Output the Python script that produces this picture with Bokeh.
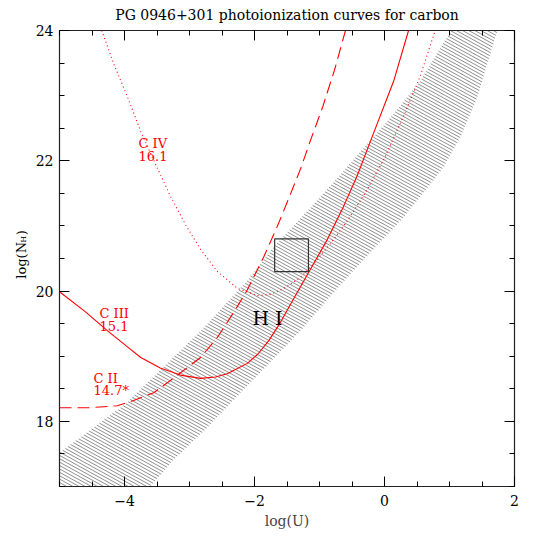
import numpy as np
from bokeh.plotting import figure
from bokeh.models import Range1d, FixedTicker, LinearAxis, ColumnDataSource
from bokeh.layouts import row
from bokeh.core.properties import value
from bokeh.embed import file_html
from bokeh.resources import INLINE

# ---------------- data ----------------
title_text = "PG 0946+301 photoionization curves for carbon"
x_label = "log(U)"
y_label_parts = ["log(N", "H", ")"]

x_major = [-4, -2, 0, 2]
x_major_labels = ["\u22124", "\u22122", "0", "2"]
x_minor = [-5.0, -4.5, -3.5, -3.0, -2.5, -1.5, -1.0, -0.5, 0.5, 1.0, 1.5]
y_major = [18, 20, 22, 24]
y_major_labels = ["18", "20", "22", "24"]
y_minor = [17.0, 17.5, 18.5, 19.0, 19.5, 20.5, 21.0, 21.5, 22.5, 23.0, 23.5]

# H I allowed band (upper-left edge and lower-right edge)
band_up_x = [-5.0, -3.985, -2.83, -2.14, -1.68, -1.14, -0.68, -0.25, 0.09, 0.55, 1.02]
band_up_y = [17.52, 18.27, 19.39, 20.13, 20.71, 21.28, 21.79, 22.28, 22.66, 23.23, 24.0]
band_lo_x = [-3.60, -3.25, -2.72, -2.22, -1.83, -1.29, -0.75, -0.22, 0.25, 0.55, 0.91, 1.17, 1.43, 1.585, 1.74]
band_lo_y = [17.0, 17.40, 17.91, 18.43, 18.83, 19.39, 20.01, 20.59, 21.08, 21.44, 21.90, 22.36, 22.97, 23.49, 24.0]

# C IV (16.1) dotted curve
civ_x = [-4.35, -4.17, -3.95, -3.75, -3.5, -3.29, -3.05, -2.83, -2.57, -2.26, -1.95, -1.75,
         -1.55, -1.29, -1.09, -0.83, -0.57, -0.3, 0.0, 0.3, 0.55, 0.78]
civ_y = [24.0, 23.5, 22.97, 22.45, 21.9, 21.45, 21.0, 20.64, 20.3, 20.04, 19.93, 19.95,
         20.04, 20.21, 20.42, 20.73, 21.08, 21.5, 22.04, 22.7, 23.3, 24.0]

# C III (15.1) solid curve
ciii_x = [-5.0, -4.6, -4.26, -3.95, -3.75, -3.45, -3.14, -2.83, -2.6, -2.42, -2.11, -1.95, -1.78,
          -1.6, -1.45, -1.17, -0.88, -0.63, -0.42, -0.22, 0.14, 0.37]
ciii_y = [19.99, 19.68, 19.39, 19.14, 18.98, 18.82, 18.71, 18.66, 18.68, 18.73, 18.89, 19.03, 19.24,
          19.52, 19.79, 20.28, 20.79, 21.30, 21.77, 22.29, 23.22, 24.0]

# C II (14.7*) dashed curve
cii_x = [-5.0, -4.52, -4.11, -3.86, -3.55, -3.25, -2.83, -2.57, -2.29, -2.11, -1.86, -1.65,
         -1.45, -1.29, -1.14, -0.95, -0.77, -0.60]
cii_y = [18.21, 18.21, 18.24, 18.32, 18.44, 18.66, 18.98, 19.29, 19.72, 20.02, 20.52, 20.99,
         21.48, 21.88, 22.31, 22.83, 23.39, 24.0]

# observed box
box_x = [-1.69, -1.17]
box_y = [20.30, 20.80]

# curve labels
lab_text = ["C  IV", "16.1", "C  III", "15.1", "C  II", "14.7*"]
lab_x = [-3.785, -3.785, -4.385, -4.385, -4.477, -4.477]
lab_y = [22.27, 22.07, 19.66, 19.47, 18.66, 18.47]
hi_text = ["H  I"]
hi_x, hi_y = [-1.754], [19.59]

X0, X1, Y0, Y1 = -5.0, 2.0, 17.0, 24.0

SERIF = "DejaVu Serif"
RED = "#ff0000"
H = 537
LW = 32  # width of the y-label strip

# ---------------- main figure ----------------
p = figure(width=H - LW, height=H, x_range=Range1d(X0, X1), y_range=Range1d(Y0, Y1),
           output_backend="svg", toolbar_location=None,
           min_border_left=59 - LW, min_border_right=23, min_border_top=30, min_border_bottom=51)
p.background_fill_color = "white"
p.border_fill_color = "white"
p.grid.visible = False
p.outline_line_color = "#222222"
p.outline_line_width = 1.2

p.title.text = title_text
p.title.text_font = SERIF
p.title.text_font_size = "14px"
p.title.text_font_style = "normal"
p.title.align = "center"
p.title.vertical_align = "top"
p.title.text_color = "#000000"
p.title.standoff = 11
p.title.offset = 0

for ax in (p.xaxis[0], p.yaxis[0]):
    ax.major_tick_in = 10
    ax.major_tick_out = 0
    ax.minor_tick_in = 5
    ax.minor_tick_out = 0
    ax.major_tick_line_color = "#000000"
    ax.minor_tick_line_color = "#000000"
    ax.axis_line_color = None
    ax.major_label_text_font = SERIF
    ax.major_label_text_font_size = "14px"
    ax.major_label_text_color = "#000000"

p.xaxis[0].ticker = FixedTicker(ticks=x_major, minor_ticks=x_minor)
p.xaxis[0].major_label_overrides = {t: s for t, s in zip(x_major, x_major_labels)}
p.xaxis[0].major_label_standoff = 8
p.xaxis[0].axis_label = x_label
p.xaxis[0].axis_label_text_font = SERIF
p.xaxis[0].axis_label_text_font_size = "14px"
p.xaxis[0].axis_label_text_font_style = "normal"
p.xaxis[0].axis_label_standoff = 4

p.yaxis[0].ticker = FixedTicker(ticks=y_major, minor_ticks=y_minor)
p.yaxis[0].major_label_overrides = {t: s for t, s in zip(y_major, y_major_labels)}
p.yaxis[0].major_label_standoff = 6
p.yaxis[0].major_label_orientation = "horizontal"

# mirrored axes (ticks only, no labels)
top_ax = LinearAxis(ticker=FixedTicker(ticks=x_major, minor_ticks=x_minor))
right_ax = LinearAxis(ticker=FixedTicker(ticks=y_major, minor_ticks=y_minor))
for ax in (top_ax, right_ax):
    ax.major_tick_in = 10
    ax.major_tick_out = 0
    ax.minor_tick_in = 5
    ax.minor_tick_out = 0
    ax.axis_line_color = None
    ax.major_label_text_font_size = "0px"
    ax.major_label_text_color = None
    ax.major_label_standoff = 0
    ax.major_tick_line_color = "#000000"
    ax.minor_tick_line_color = "#000000"
p.add_layout(top_ax, "above")
p.add_layout(right_ax, "right")

# ---------------- hatched H I band ----------------
slope = 0.55
spacing = 0.052
xg = np.linspace(X0, X1, 1401)
top_edge = np.interp(xg, band_up_x, band_up_y)
bot_edge = np.interp(xg, band_lo_x, band_lo_y)
hx, hy = [], []
for c in np.arange(14.0, 26.5, spacing):
    yl = c - slope * xg
    inside = (yl > bot_edge) & (yl < top_edge)
    edges = np.flatnonzero(np.diff(np.r_[0, inside.astype(int), 0]))
    for a, b in zip(edges[::2], edges[1::2]):
        if b - 1 > a:
            hx.append([xg[a], xg[b - 1]])
            hy.append([yl[a], yl[b - 1]])
p.multi_line(hx, hy, line_color="#444444", line_width=0.6)

# ---------------- curves ----------------
p.line(civ_x, civ_y, line_color=RED, line_width=1.1, line_dash="1 3")
p.line(ciii_x, ciii_y, line_color=RED, line_width=1.1)
p.line(cii_x, cii_y, line_color=RED, line_width=1.1, line_dash="12 6")

p.quad(left=[box_x[0]], right=[box_x[1]], bottom=[box_y[0]], top=[box_y[1]],
       fill_color=None, line_color="#333333", line_width=1.2)

lab_src = ColumnDataSource(dict(x=lab_x, y=lab_y, text=lab_text))
p.text(x="x", y="y", text="text", source=lab_src, text_font=value(SERIF),
       text_font_size=value("13px"), text_color=RED, text_align="left", text_baseline="middle")
p.text(x=hi_x, y=hi_y, text=hi_text, text_font=value(SERIF), text_font_size=value("19px"),
       text_color="#000000", text_align="center", text_baseline="middle")

# ---------------- y-label strip (same vertical scale as the main frame) ----------------
q = figure(width=LW, height=H, x_range=Range1d(0, LW), y_range=Range1d(Y0, Y1),
           output_backend="svg", toolbar_location=None,
           x_axis_location=None, y_axis_location=None,
           min_border_left=0, min_border_right=0, min_border_top=30, min_border_bottom=51)
q.outline_line_color = None
q.grid.visible = False
q.background_fill_color = "white"
q.border_fill_color = "white"

ylab_base = 20.19
ylab_src = ColumnDataSource(dict(
    x=[21, 23, 21],
    y=[ylab_base, ylab_base + 0.55, ylab_base + 0.665],
    text=y_label_parts,
    size=["13px", "8px", "13px"],
))
q.text(x="x", y="y", text="text", source=ylab_src, angle=np.pi / 2,
       text_font=value(SERIF), text_font_size="size", text_color="#000000",
       text_align="left", text_baseline="alphabetic")

layout = row(q, p)
open("out.html", "w").write(file_html(layout, INLINE))
